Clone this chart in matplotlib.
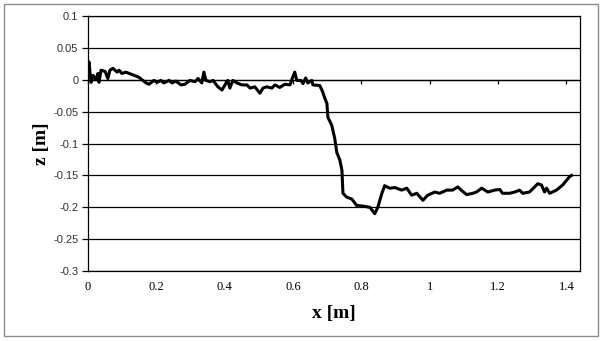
import matplotlib

matplotlib.use("Agg")
import matplotlib.pyplot as plt
from matplotlib.patches import Rectangle
import numpy as np

# profile
x_m = [0.000, 0.003, 0.006, 0.009, 0.015, 0.023, 0.029, 0.032, 0.038, 0.050,
       0.058, 0.064, 0.073, 0.085, 0.091, 0.099, 0.111, 0.120, 0.135, 0.149,
       0.158, 0.170, 0.178, 0.193, 0.202, 0.213, 0.222, 0.237, 0.246, 0.257,
       0.272, 0.284, 0.298, 0.313, 0.322, 0.333, 0.339, 0.345, 0.357, 0.366,
       0.380, 0.392, 0.401, 0.409, 0.415, 0.424, 0.436, 0.450, 0.465, 0.474,
       0.488, 0.503, 0.512, 0.523, 0.538, 0.547, 0.561, 0.576, 0.591, 0.599,
       0.605, 0.611, 0.623, 0.629, 0.637, 0.643, 0.655, 0.658, 0.678, 0.686,
       0.693, 0.699, 0.702, 0.713, 0.722, 0.728, 0.737, 0.743, 0.746, 0.757,
       0.772, 0.786, 0.804, 0.825, 0.839, 0.848, 0.860, 0.868, 0.883, 0.898,
       0.918, 0.933, 0.947, 0.962, 0.980, 0.994, 1.015, 1.029, 1.050, 1.067,
       1.082, 1.094, 1.108, 1.126, 1.137, 1.152, 1.170, 1.190, 1.205, 1.213,
       1.234, 1.249, 1.263, 1.272, 1.292, 1.307, 1.316, 1.327, 1.336, 1.342,
       1.351, 1.371, 1.389, 1.409, 1.415]
z_m = [0.023, 0.028, 0.010, -0.004, 0.007, 0.000, 0.010, -0.004, 0.015, 0.013,
       0.002, 0.015, 0.018, 0.012, 0.015, 0.010, 0.012, 0.010, 0.007, 0.004,
       0.000, -0.005, -0.007, -0.001, -0.004, -0.001, -0.005, -0.001, -0.005, -0.002,
       -0.008, -0.007, -0.001, -0.003, 0.002, -0.005, 0.012, -0.001, -0.003, -0.001,
       -0.011, -0.016, -0.008, -0.001, -0.013, -0.001, -0.005, -0.008, -0.008, -0.013,
       -0.011, -0.021, -0.013, -0.011, -0.013, -0.008, -0.012, -0.007, -0.008, 0.004,
       0.012, -0.001, -0.001, -0.006, 0.003, -0.005, -0.001, -0.008, -0.009, -0.018,
       -0.029, -0.037, -0.059, -0.071, -0.092, -0.114, -0.126, -0.142, -0.178, -0.184,
       -0.187, -0.197, -0.198, -0.200, -0.210, -0.200, -0.178, -0.166, -0.170, -0.169,
       -0.173, -0.170, -0.181, -0.178, -0.189, -0.181, -0.176, -0.178, -0.173, -0.173,
       -0.168, -0.174, -0.180, -0.178, -0.176, -0.170, -0.176, -0.173, -0.172, -0.178,
       -0.178, -0.176, -0.173, -0.178, -0.176, -0.168, -0.163, -0.165, -0.176, -0.170,
       -0.178, -0.173, -0.165, -0.152, -0.150]

x_ticks = [0, 0.2, 0.4, 0.6, 0.8, 1.0, 1.2, 1.4]
x_labels = ["0", "0.2", "0.4", "0.6", "0.8", "1", "1.2", "1.4"]
y_ticks = [-0.3, -0.25, -0.2, -0.15, -0.1, -0.05, 0, 0.05, 0.1]
y_labels = ["-0.3", "-0.25", "-0.2", "-0.15", "-0.1", "-0.05", "0", "0.05", "0.1"]

fig = plt.figure(figsize=(6.03, 3.41), dpi=100)
fig.patches.append(Rectangle((0.0066, 0.0147), 0.985, 0.974, transform=fig.transFigure,
                             fill=False, edgecolor="#8c8c8c", lw=1.0))
ax = fig.add_axes([0.146, 0.205, 0.816, 0.748])

ax.plot(x_m, z_m, color="black", lw=2.2, solid_joinstyle="round")

ax.set_xlim(0, 1.44)
ax.set_ylim(-0.3, 0.1)
ax.set_yticks(y_ticks)
ax.set_yticklabels(y_labels, family="Liberation Sans", fontsize=8, color="#333333")
ax.yaxis.grid(True, color="black", lw=0.9)
ax.set_axisbelow(True)
ax.tick_params(axis="y", length=4, width=0.9, pad=3)

# horizontal axis crosses at z = 0, labels stay at the bottom
ax.spines["bottom"].set_position(("data", 0))
ax.set_xticks(x_ticks)
ax.tick_params(axis="x", direction="out", length=3, width=0.9, labelbottom=False)
sec = ax.secondary_xaxis("bottom")
sec.set_xticks(x_ticks)
sec.set_xticklabels(x_labels, family="Liberation Serif", fontsize=9)
sec.tick_params(length=0, pad=7)
for s in ax.spines.values():
    s.set_color("black")
    s.set_linewidth(0.9)
sec.spines["bottom"].set_linewidth(0.9)

sec.set_xlabel("x [m]", family="Liberation Serif", fontsize=14, fontweight="bold", labelpad=9)
ax.set_ylabel("z [m]", family="Liberation Serif", fontsize=14, fontweight="bold", labelpad=2)

fig.savefig("out.png", dpi=100)
